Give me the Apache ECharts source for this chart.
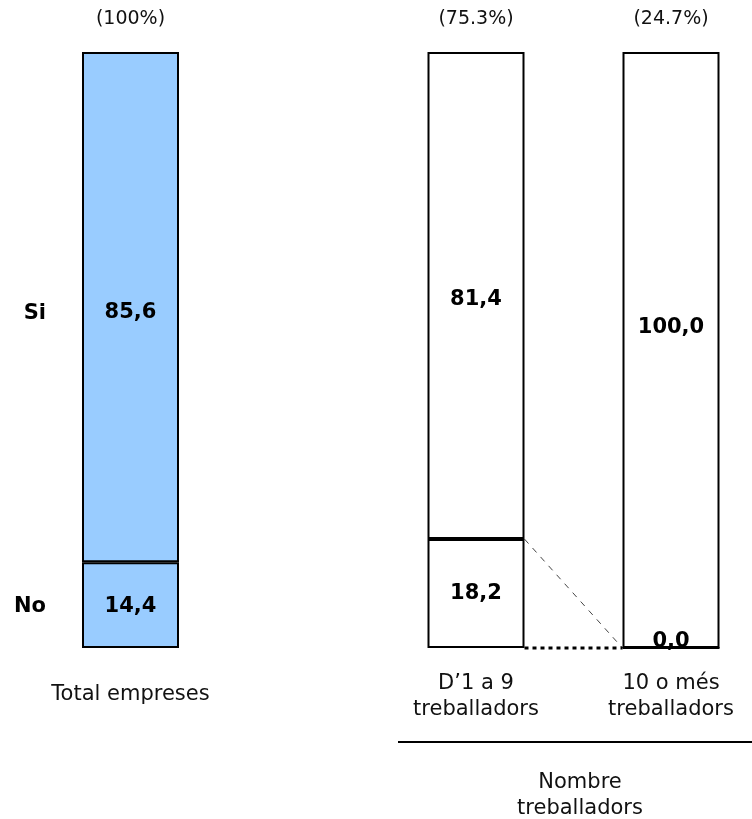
<!DOCTYPE html>
<html><head><meta charset="utf-8">
<script src="https://cdn.jsdelivr.net/npm/echarts@6/dist/echarts.min.js"></script>
<style>html,body{margin:0;padding:0;background:#fff}#c{width:752px;height:819px}</style>
</head><body><div id="c"></div>
<script>
// ---- data ----
const totalCategory = ['Total empreses'];
const sizeCategories = ['D\u20191 a 9\ntreballadors', '10 o més\ntreballadors'];
const totalShare = ['(100%)'];
const sizeShares = ['(75.3%)', '(24.7%)'];
const totalSi = [85.6];
const totalNo = [14.4];
const sizeSi = [81.4, 100.0];
const sizeNo = [18.2, 0.0];
const answerLabels = ['Si', 'No'];
const groupTitle = 'Nombre\ntreballadors';

// ---- styling ----
const FONT = 'Verdana, "DejaVu Sans", sans-serif';
const BW = 97;
const BLUE = '#99CCFF';
const fmt = v => v.toFixed(1).replace('.', ',');

function shares(si, no) {
  return si.map((s, i) => {
    const t = s + no[i];
    return { si: s / t * 100, no: no[i] / t * 100 };
  });
}
const totP = shares(totalSi, totalNo);
const sizeP = shares(sizeSi, sizeNo);

const labelBase = { show: true, position: 'inside', fontFamily: FONT, fontWeight: 'bold', fontSize: 21, color: '#000' };

function barSeries(name, xi, raw, plotted, fill, offsets) {
  return {
    type: 'bar', name, stack: 's' + xi, xAxisIndex: xi, yAxisIndex: xi === 0 ? 0 : 1,
    barWidth: BW, clip: false,
    itemStyle: { color: fill, borderColor: '#000', borderWidth: 2 },
    label: Object.assign({}, labelBase, { formatter: p => fmt(raw[p.dataIndex]) }),
    data: plotted.map((v, i) => ({ value: v, label: { offset: [0, offsets[i]] } })),
    animation: false
  };
}

const axisLabelBase = { fontFamily: FONT, fontSize: 21, color: '#111', lineHeight: 26 };

const option = {
  animation: false,
  grid: [
    { left: 82, width: BW, top: 52, bottom: 171 },
    { left: 476, right: 81, top: 52, bottom: 171 }
  ],
  xAxis: [
    { type: 'category', gridIndex: 0, data: totalCategory, axisLine: { show: false }, axisTick: { show: false },
      axisLabel: Object.assign({}, axisLabelBase, { margin: 34 }) },
    { type: 'category', gridIndex: 1, data: sizeCategories, boundaryGap: false, axisLine: { show: false }, axisTick: { show: false },
      axisLabel: Object.assign({}, axisLabelBase, { margin: 23, interval: 0 }) },
    { type: 'category', gridIndex: 0, position: 'top', data: totalShare, axisLine: { show: false }, axisTick: { show: false },
      axisLabel: Object.assign({}, axisLabelBase, { fontSize: 19, lineHeight: 22, margin: 22 }) },
    { type: 'category', gridIndex: 1, position: 'top', data: sizeShares, boundaryGap: false, axisLine: { show: false }, axisTick: { show: false },
      axisLabel: Object.assign({}, axisLabelBase, { fontSize: 19, lineHeight: 22, margin: 22, interval: 0 }) }
  ],
  yAxis: [
    { type: 'value', gridIndex: 0, min: 0, max: 100, show: false },
    { type: 'value', gridIndex: 1, min: 0, max: 100, show: false }
  ],
  series: [
    barSeries('No', 0, totalNo, totP.map(d => d.no), BLUE, [1]),
    barSeries('Si', 0, totalSi, totP.map(d => d.si), BLUE, [5]),
    barSeries('No', 1, sizeNo, sizeP.map(d => d.no), '#fff', [0, -6]),
    barSeries('Si', 1, sizeSi, sizeP.map(d => d.si), '#fff', [4, -22])
  ]
};

const chart = echarts.init(document.getElementById('c'));
chart.setOption(option);

// ---- annotations positioned through the chart's own scales ----
const siMid = chart.convertToPixel({ seriesIndex: 1 }, [0, totP[0].no + totP[0].si / 2]);
const noMid = chart.convertToPixel({ seriesIndex: 0 }, [0, totP[0].no / 2]);
const aTop = chart.convertToPixel({ seriesIndex: 2 }, [0, sizeP[0].no]);
const aBase = chart.convertToPixel({ seriesIndex: 2 }, [0, 0]);
const bBase = chart.convertToPixel({ seriesIndex: 2 }, [1, sizeP[1].no]);
const leftTextX = siMid[0] - BW / 2 - 36;

chart.setOption({
  graphic: [
    { type: 'text', x: leftTextX, y: siMid[1] + 6, style: { text: answerLabels[0], font: 'bold 21px ' + FONT, fill: '#000', align: 'right', verticalAlign: 'middle' } },
    { type: 'text', x: leftTextX, y: noMid[1] + 1, style: { text: answerLabels[1], font: 'bold 21px ' + FONT, fill: '#000', align: 'right', verticalAlign: 'middle' } },
    { type: 'line', shape: { x1: aTop[0] + BW / 2, y1: aTop[1], x2: bBase[0] - BW / 2, y2: bBase[1] },
      style: { stroke: '#444', lineWidth: 1, lineDash: [6, 6] } },
    { type: 'line', shape: { x1: aBase[0] + BW / 2, y1: aBase[1], x2: bBase[0] - BW / 2, y2: aBase[1] },
      style: { stroke: '#000', lineWidth: 3, lineDash: [4, 4] } },
    { type: 'line', shape: { x1: 398, y1: 742, x2: 752, y2: 742 }, style: { stroke: '#000', lineWidth: 2 } },
    { type: 'text', x: 580, y: 796, style: { text: groupTitle, font: '21px ' + FONT, fill: '#111', align: 'center', verticalAlign: 'middle', lineHeight: 26 } }
  ]
});
</script>
</body></html>
